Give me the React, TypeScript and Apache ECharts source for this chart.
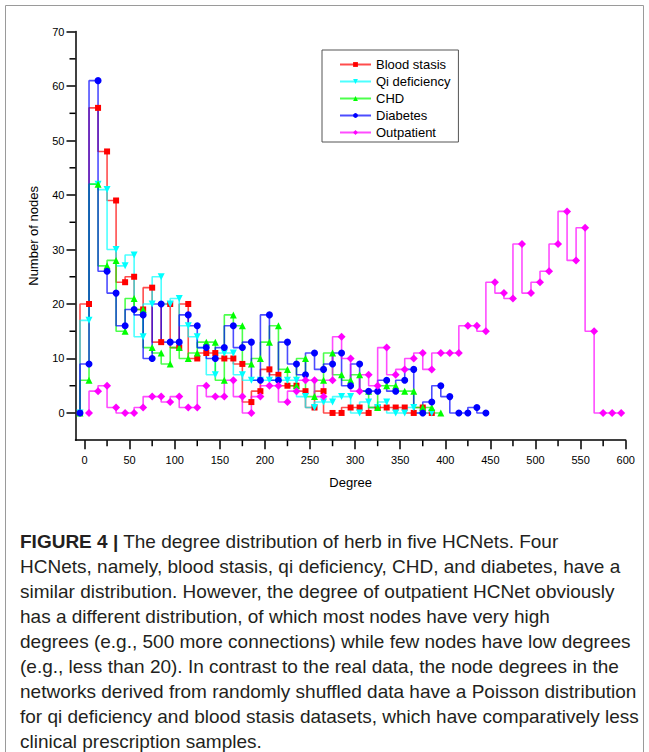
import React, { useEffect, useRef } from "react";
import * as echarts from "echarts";

// Degrees (bin centres) for the four disease HCNets
const degreesA = [
  -5, 5, 15, 25, 35, 45, 55, 65, 75, 85, 95, 105, 115, 125, 135, 145, 155, 165, 175, 185,
  195, 205, 215, 225, 235, 245, 255, 265, 275, 285, 295, 305, 315, 325, 335, 345, 355, 365,
  375, 385, 395, 405, 415, 425, 435, 445,
];
// Degrees for outpatient HCNet
const degreesB = [
  5, 15, 25, 35, 45, 55, 65, 75, 85, 95, 105, 115, 125, 135, 145, 155, 165, 175, 185, 195,
  205, 215, 225, 235, 245, 255, 265, 275, 285, 295, 305, 315, 325, 335, 345, 355, 365, 375,
  385, 395, 405, 415, 425, 435, 445, 455, 465, 475, 485, 495, 505, 515, 525, 535, 545, 555,
  565, 575, 585, 595,
];

const bloodStasis = [
  0, 20, 56, 48, 39, 24, 25, 19, 23, 13, 20, 12, 20, 10, 11, 11, 10, 10, 9, 2,
  4, 8, 7, 5, 5, 4, 1, 4, 0, 0, 1, 1, 0, 1, 1, 1, 1, 0, 1, 0,
];
const qiDeficiency = [
  0, 17, 42, 41, 30, 27, 29, 14, 20, 25, 20, 21, 16, 14, 12, 7, 11, 11, 7, 6,
  6, 6, 6, 6, 6, 3, 1, 2, 2, 3, 3, 0, 2, 1, 2, 0, 0, 1, 0, 0,
];
const chd = [
  0, 6, 42, 27, 28, 15, 21, 19, 12, 11, 9, 12, 10, 11, 13, 13, 6, 18, 16, 9,
  10, 13, 16, 8, 5, 10, 3, 6, 11, 7, 6, 7, 4, 1, 5, 5, 4, 4, 1, 1, 0,
];
const diabetes = [
  0, 9, 61, 26, 22, 16, 19, 18, 10, 20, 13, 13, 18, 16, 12, 10, 12, 16, 12, 13,
  6, 18, 6, 13, 9, 7, 11, 8, 9, 11, 5, 9, 4, 4, 6, 4, 6, 8, 0, 2,
  5, 3, 0, 0, 1, 0,
];
const outpatient = [
  0, 4, 5, 1, 0, 0, 1, 3, 3, 2, 3, 1, 1, 5, 3, 3, 6, 3, 0, 3,
  5, 5, 2, 4, 6, 6, 3, 6, 14, 10, 4, 7, 5, 12, 7, 8, 10, 11, 8, 11,
  11, 11, 16, 16, 15, 24, 22, 21, 31, 22, 24, 26, 31, 37, 28, 34, 15, 0, 0, 0,
];

const xMajorTicks = [0, 50, 100, 150, 200, 250, 300, 350, 400, 450, 500, 550, 600];
const xMinorTicks = [25, 75, 125, 175, 225, 275, 325, 375, 425, 475, 525, 575];
const yMajorTicks = [0, 10, 20, 30, 40, 50, 60, 70];
const yMinorTicks = [5, 15, 25, 35, 45, 55, 65];

const seriesNames = ["Blood stasis", "Qi deficiency", "CHD", "Diabetes", "Outpatient"];
const seriesColors = ["#ff0000", "#00ffff", "#00ff00", "#0000ff", "#ff00ff"];

const captionLines = [
  "{b|FIGURE 4 |} The degree distribution of herb in five HCNets. Four",
  "HCNets, namely, blood stasis, qi deficiency, CHD, and diabetes, have a",
  "similar distribution. However, the degree of outpatient HCNet obviously",
  "has a different distribution, of which most nodes have very high",
  "degrees (e.g., 500 more connections) while few nodes have low degrees",
  "(e.g., less than 20). In contrast to the real data, the node degrees in the",
  "networks derived from randomly shuffled data have a Poisson distribution",
  "for qi deficiency and blood stasis datasets, which have comparatively less",
  "clinical prescription samples.",
];

const FONT = "Liberation Sans, Arial, sans-serif";
const X_MIN = -10;
const Y_MIN = -5;

export default function App() {
  const ref = useRef<HTMLDivElement>(null);
  useEffect(() => {
    if (!ref.current) return;
    const chart = echarts.init(ref.current, undefined, { renderer: "svg" });
    const zip = (xs: number[], ys: number[]) => ys.map((v, i) => [xs[i], v]);
    const datas = [
      zip(degreesA, bloodStasis),
      zip(degreesA, qiDeficiency),
      zip(degreesA, chd),
      zip(degreesA, diabetes),
      zip(degreesB, outpatient),
    ];
    const symbols = ["rect", "triangle", "triangle", "circle", "diamond"];
    const rotations = [0, 180, 0, 0, 0];
    const sizes = [6, 7, 7, 7, 8];

    const axisLineStyle = { color: "#000", width: 1.5 };
    const grid = { left: 75.5, right: 23.3, top: 31.6, bottom: 311.8 };

    chart.setOption({
      animation: false,
      backgroundColor: "#fff",
      grid,
      legend: {
        orient: "vertical",
        left: 322,
        top: 50,
        padding: [8, 8, 3, 17],
        itemGap: 4,
        itemWidth: 31,
        itemHeight: 6,
        borderColor: "#555",
        borderWidth: 1,
        data: seriesNames,
        textStyle: { fontFamily: FONT, fontSize: 13, color: "#000" },
      },
      xAxis: {
        type: "value",
        min: X_MIN,
        max: 600,
        name: "Degree",
        nameLocation: "middle",
        nameGap: 36,
        nameTextStyle: { fontFamily: FONT, fontSize: 13, color: "#000" },
        axisLine: { show: true, onZero: false, lineStyle: axisLineStyle },
        axisTick: { show: true, length: 9, lineStyle: axisLineStyle, customValues: xMajorTicks },
        axisLabel: { margin: 14, fontFamily: FONT, fontSize: 11, color: "#000", customValues: xMajorTicks },
        splitLine: { show: false },
      },
      yAxis: {
        type: "value",
        min: Y_MIN,
        max: 70,
        name: "Number of nodes",
        nameLocation: "middle",
        nameGap: 36,
        nameTextStyle: { fontFamily: FONT, fontSize: 13, color: "#000" },
        axisLine: { show: true, onZero: false, lineStyle: axisLineStyle },
        axisTick: { show: true, length: 9, lineStyle: axisLineStyle, customValues: yMajorTicks },
        axisLabel: { margin: 11, fontFamily: FONT, fontSize: 11, color: "#000", customValues: yMajorTicks },
        splitLine: { show: false },
      },
      series: datas.map((d, i) => ({
        name: seriesNames[i],
        type: "line",
        step: "start",
        data: d,
        symbol: symbols[i],
        symbolRotate: rotations[i],
        symbolSize: sizes[i],
        showAllSymbol: true,
        color: seriesColors[i],
        itemStyle: { color: seriesColors[i] },
        lineStyle: { color: seriesColors[i], width: 1.6, opacity: 0.7 },
      })),
    });

    // Minor ticks placed through the chart's own scales
    const minorGraphics: any[] = [];
    xMinorTicks.forEach((v) => {
      const p = chart.convertToPixel({ seriesIndex: 0 }, [v, Y_MIN]) as number[];
      minorGraphics.push({
        type: "line",
        shape: { x1: p[0], y1: p[1], x2: p[0], y2: p[1] + 6 },
        style: { stroke: "#000", lineWidth: 1.5 },
        z: 10,
        silent: true,
      });
    });
    yMinorTicks.forEach((v) => {
      const p = chart.convertToPixel({ seriesIndex: 0 }, [X_MIN, v]) as number[];
      minorGraphics.push({
        type: "line",
        shape: { x1: p[0] - 6, y1: p[1], x2: p[0], y2: p[1] },
        style: { stroke: "#000", lineWidth: 1.5 },
        z: 10,
        silent: true,
      });
    });

    chart.setOption({
      graphic: [
        {
          type: "rect",
          shape: { x: 5.5, y: 5.5, width: 638, height: 800 },
          style: { fill: "none", stroke: "#9a9a9a", lineWidth: 1 },
          silent: true,
        },
        ...minorGraphics,
        ...captionLines.map((t, i) => ({
          type: "text",
          x: 20,
          y: 541 + i * 25,
          style: {
            text: t,
            fontFamily: FONT,
            fontSize: 19,
            fill: "#231f20",
            verticalAlign: "middle",
            rich: {
              b: { fontFamily: FONT, fontSize: 19, fontWeight: "bold", fill: "#231f20" },
            },
          },
        })),
      ],
    });
    return () => chart.dispose();
  }, []);
  return (
    <div
      ref={ref}
      style={{ position: "fixed", left: 0, top: 0, width: 649, height: 752, background: "#fff" }}
    />
  );
}
